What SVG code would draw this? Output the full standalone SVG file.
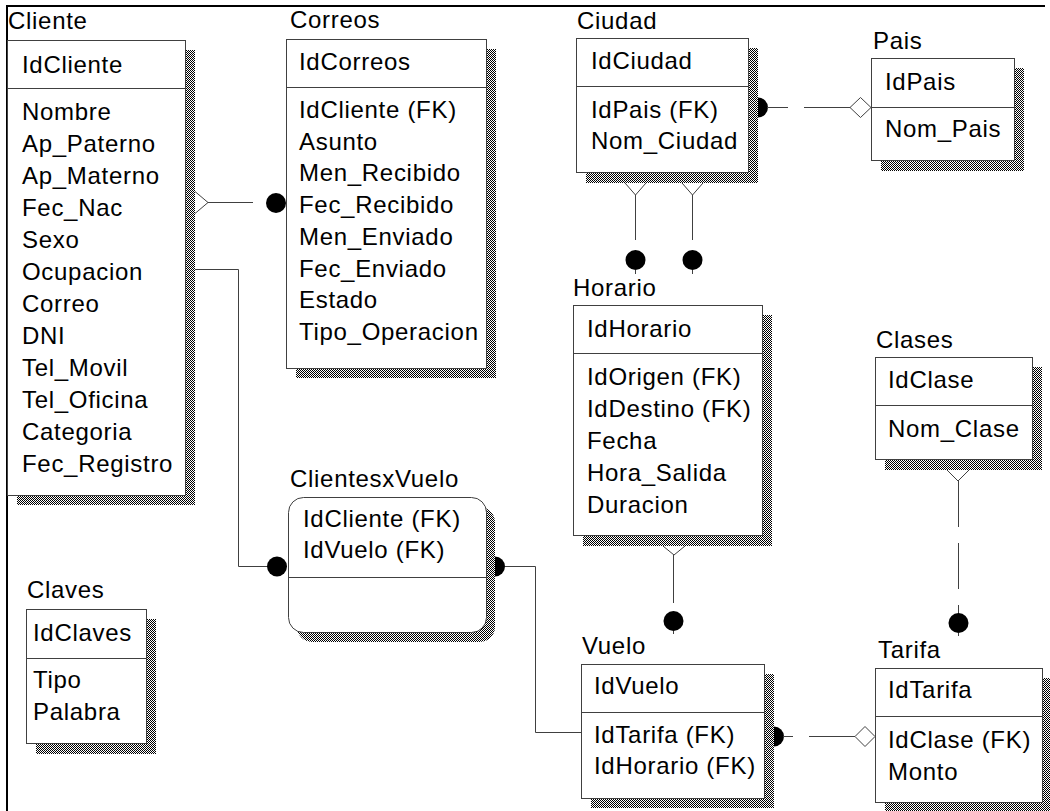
<svg xmlns="http://www.w3.org/2000/svg" width="1050" height="811" viewBox="0 0 1050 811">
  <defs>
    <!-- 1px checker dither used for the drop shadows -->
    <pattern id="dither" width="2" height="2" patternUnits="userSpaceOnUse">
      <rect width="2" height="2" fill="#fff"/>
      <rect width="1" height="1" fill="#000"/>
      <rect x="1" y="1" width="1" height="1" fill="#000"/>
    </pattern>
    <style>
      .t { font-family: "Liberation Sans", Arial, sans-serif; font-size: 24px; letter-spacing: 0.7px; fill: #000; }
      .box { fill: #fff; stroke: #404040; stroke-width: 1; }
      .sep { stroke: #404040; stroke-width: 1; }
      .sh { fill: url(#dither); }
      .ln { stroke: #404040; stroke-width: 1; fill: none; }
      .dash { stroke-dasharray: 46 16; }
      .dot { fill: #000; }
      .dia { fill: #fff; stroke: #404040; stroke-width: 1; }
      .frame { stroke: #000; stroke-width: 2; }
    </style>
  </defs>

  <rect width="1050" height="811" fill="#fff"/>

  <!-- page frame -->
  <line class="frame" x1="6" y1="6" x2="1045" y2="6"/>
  <line class="frame" x1="7" y1="5" x2="7" y2="811"/>

  <!-- Cliente -->
  <g id="cliente">
    <rect class="sh" x="17" y="50" width="178" height="455"/>
    <rect class="box" x="7.5" y="40.5" width="178" height="455"/>
    <line class="sep" x1="7.5" y1="88.5" x2="185.5" y2="88.5"/>
    <text class="t" x="8" y="29">Cliente</text>
    <text class="t" x="22" y="73">IdCliente</text>
    <text class="t" x="22" y="119.5">Nombre</text>
    <text class="t" x="22" y="151.5">Ap_Paterno</text>
    <text class="t" x="22" y="183.5">Ap_Materno</text>
    <text class="t" x="22" y="215.5">Fec_Nac</text>
    <text class="t" x="22" y="247.5">Sexo</text>
    <text class="t" x="22" y="279.5">Ocupacion</text>
    <text class="t" x="22" y="311.5">Correo</text>
    <text class="t" x="22" y="343.5">DNI</text>
    <text class="t" x="22" y="375.5">Tel_Movil</text>
    <text class="t" x="22" y="407.5">Tel_Oficina</text>
    <text class="t" x="22" y="439.5">Categoria</text>
    <text class="t" x="22" y="471.5">Fec_Registro</text>
  </g>

  <!-- Correos -->
  <g id="correos">
    <rect class="sh" x="296" y="49" width="200" height="329"/>
    <rect class="box" x="286.5" y="39.5" width="200" height="329"/>
    <line class="sep" x1="286.5" y1="87.5" x2="486.5" y2="87.5"/>
    <text class="t" x="290" y="28">Correos</text>
    <text class="t" x="299" y="70">IdCorreos</text>
    <text class="t" x="299" y="118">IdCliente (FK)</text>
    <text class="t" x="299" y="149.7">Asunto</text>
    <text class="t" x="299" y="181.4">Men_Recibido</text>
    <text class="t" x="299" y="213.1">Fec_Recibido</text>
    <text class="t" x="299" y="244.8">Men_Enviado</text>
    <text class="t" x="299" y="276.5">Fec_Enviado</text>
    <text class="t" x="299" y="308.2">Estado</text>
    <text class="t" x="299" y="339.9">Tipo_Operacion</text>
  </g>

  <!-- Ciudad -->
  <g id="ciudad">
    <rect class="sh" x="586" y="48" width="172" height="135"/>
    <rect class="box" x="576.5" y="38.5" width="172" height="134"/>
    <line class="sep" x1="576.5" y1="86.5" x2="748.5" y2="86.5"/>
    <text class="t" x="577" y="29">Ciudad</text>
    <text class="t" x="591" y="69">IdCiudad</text>
    <text class="t" x="591" y="118">IdPais (FK)</text>
    <text class="t" x="591" y="149">Nom_Ciudad</text>
  </g>

  <!-- Pais -->
  <g id="pais">
    <rect class="sh" x="881" y="68" width="143" height="103"/>
    <rect class="box" x="871.5" y="58.5" width="143" height="102"/>
    <line class="sep" x1="871.5" y1="107.5" x2="1014.5" y2="107.5"/>
    <text class="t" x="873" y="49">Pais</text>
    <text class="t" x="885" y="90">IdPais</text>
    <text class="t" x="885" y="137">Nom_Pais</text>
  </g>

  <!-- Horario -->
  <g id="horario">
    <rect class="sh" x="583" y="315" width="189" height="231"/>
    <rect class="box" x="573.5" y="305.5" width="189" height="230"/>
    <line class="sep" x1="573.5" y1="353.5" x2="762.5" y2="353.5"/>
    <text class="t" x="573" y="296">Horario</text>
    <text class="t" x="587" y="337">IdHorario</text>
    <text class="t" x="587" y="385">IdOrigen (FK)</text>
    <text class="t" x="587" y="417">IdDestino (FK)</text>
    <text class="t" x="587" y="448.5">Fecha</text>
    <text class="t" x="587" y="480.5">Hora_Salida</text>
    <text class="t" x="587" y="512.5">Duracion</text>
  </g>

  <!-- Clases -->
  <g id="clases">
    <rect class="sh" x="885" y="367" width="157" height="103"/>
    <rect class="box" x="875.5" y="357.5" width="157" height="102"/>
    <line class="sep" x1="875.5" y1="405.5" x2="1032.5" y2="405.5"/>
    <text class="t" x="876" y="348">Clases</text>
    <text class="t" x="888" y="388">IdClase</text>
    <text class="t" x="888" y="437">Nom_Clase</text>
  </g>

  <!-- ClientesxVuelo -->
  <g id="clientesxvuelo">
    <rect class="sh" x="297" y="507" width="198" height="135" rx="15"/>
    <rect class="box" x="288.5" y="497.5" width="198" height="135" rx="15"/>
    <line class="sep" x1="288.5" y1="577.5" x2="486.5" y2="577.5"/>
    <text class="t" x="290" y="487">ClientesxVuelo</text>
    <text class="t" x="303" y="527">IdCliente (FK)</text>
    <text class="t" x="303" y="558">IdVuelo (FK)</text>
  </g>

  <!-- Claves -->
  <g id="claves">
    <rect class="sh" x="36" y="619" width="120" height="135"/>
    <rect class="box" x="26.5" y="609.5" width="120" height="134"/>
    <line class="sep" x1="26.5" y1="658.5" x2="146.5" y2="658.5"/>
    <text class="t" x="27" y="598">Claves</text>
    <text class="t" x="33" y="641">IdClaves</text>
    <text class="t" x="33" y="688">Tipo</text>
    <text class="t" x="33" y="720">Palabra</text>
  </g>

  <!-- Vuelo -->
  <g id="vuelo">
    <rect class="sh" x="591" y="674" width="183" height="134"/>
    <rect class="box" x="581.5" y="664.5" width="183" height="134"/>
    <line class="sep" x1="581.5" y1="712.5" x2="764.5" y2="712.5"/>
    <text class="t" x="582" y="654">Vuelo</text>
    <text class="t" x="594" y="694">IdVuelo</text>
    <text class="t" x="594" y="743">IdTarifa (FK)</text>
    <text class="t" x="594" y="774">IdHorario (FK)</text>
  </g>

  <!-- Tarifa -->
  <g id="tarifa">
    <rect class="sh" x="885" y="678" width="167" height="134"/>
    <rect class="box" x="875.5" y="668.5" width="167" height="134"/>
    <line class="sep" x1="875.5" y1="716.5" x2="1042.5" y2="716.5"/>
    <text class="t" x="878" y="658">Tarifa</text>
    <text class="t" x="888" y="698">IdTarifa</text>
    <text class="t" x="888" y="748">IdClase (FK)</text>
    <text class="t" x="888" y="780">Monto</text>
  </g>

  <!-- relationships -->
  <g id="connectors">
    <!-- Cliente to Correos -->
    <path class="dia" d="M195 191.5 L208 202.5 L195 213.5"/>
    <line class="ln" x1="208" y1="202.5" x2="253" y2="202.5"/>
    <circle class="dot" cx="276" cy="203" r="10"/>

    <!-- Cliente to ClientesxVuelo -->
    <polyline class="ln" points="195,269.5 238.5,269.5 238.5,566.5 268,566.5"/>
    <circle class="dot" cx="277" cy="566.5" r="10"/>

    <!-- ClientesxVuelo to Vuelo -->
    <path class="dot" d="M495 556.5 A10 10 0 0 1 495 576.5 Z"/>
    <polyline class="ln" points="505,566.5 535.5,566.5 535.5,732.5 581,732.5"/>

    <!-- Ciudad to Pais -->
    <path class="dot" d="M758 97.5 A10 10 0 0 1 758 117.5 Z"/>
    <line class="ln dash" x1="850" y1="107.5" x2="767" y2="107.5"/>
    <path class="dia" d="M850 107.5 L860.5 97.5 L871 107.5 L860.5 117.5 Z"/>

    <!-- Ciudad to Horario (origin, destination) -->
    <path class="dia" d="M625 183 L635.5 195 L646 183"/>
    <line class="ln" x1="635.5" y1="195" x2="635.5" y2="240"/>
    <circle class="dot" cx="635.5" cy="260" r="10"/>
    <line class="ln" x1="635.5" y1="270" x2="635.5" y2="274"/>
    <path class="dia" d="M682 183 L692.5 195 L703 183"/>
    <line class="ln" x1="692.5" y1="195" x2="692.5" y2="240"/>
    <circle class="dot" cx="692.5" cy="260" r="10"/>
    <line class="ln" x1="692.5" y1="270" x2="692.5" y2="274"/>

    <!-- Horario to Vuelo -->
    <path class="dia" d="M663 546 L674 555 L685 546"/>
    <line class="ln" x1="673.5" y1="555" x2="673.5" y2="603"/>
    <circle class="dot" cx="673.5" cy="621" r="10"/>
    <line class="ln" x1="673.5" y1="631" x2="673.5" y2="634"/>

    <!-- Clases to Tarifa -->
    <path class="dia" d="M947 470 L958 481 L969 470"/>
    <line class="ln dash" x1="958.5" y1="481" x2="958.5" y2="614"/>
    <circle class="dot" cx="958.5" cy="623" r="10"/>
    <line class="ln" x1="958.5" y1="633" x2="958.5" y2="636"/>

    <!-- Vuelo to Tarifa -->
    <path class="dot" d="M774 726.5 A10 10 0 0 1 774 746.5 Z"/>
    <line class="ln dash" x1="855" y1="736.5" x2="783" y2="736.5"/>
    <path class="dia" d="M855 736.5 L865 726.5 L875 736.5 L865 746.5 Z"/>
  </g>
</svg>
